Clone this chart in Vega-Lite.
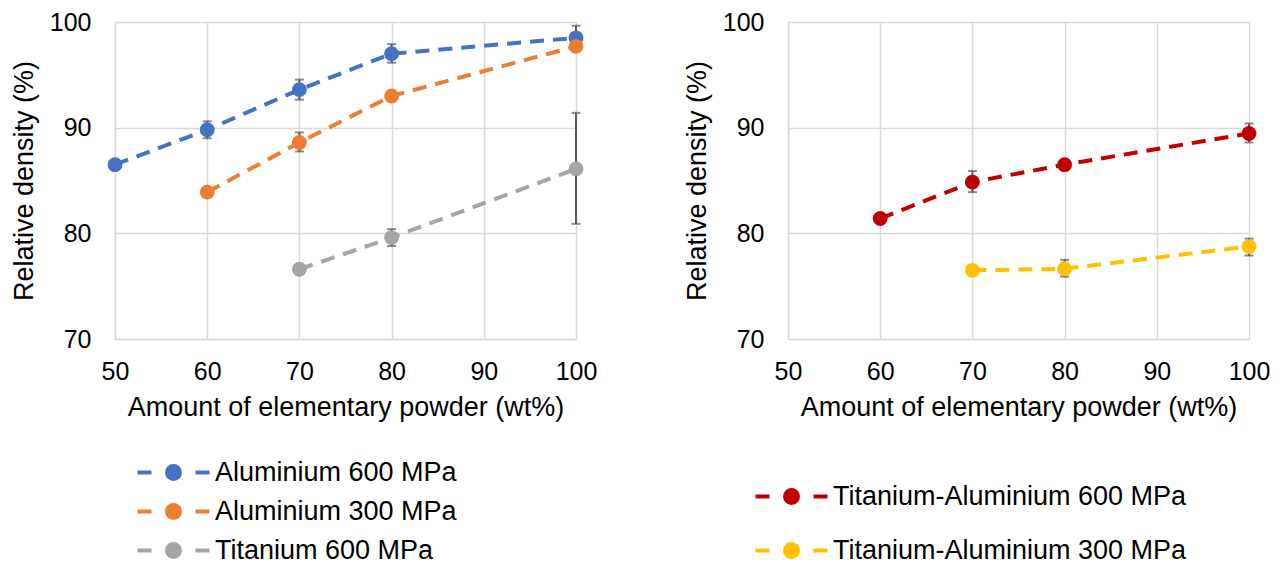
{
  "$schema": "https://vega.github.io/schema/vega-lite/v6.json",
  "padding": {"left": 10, "top": 10, "right": 0, "bottom": 0},
  "background": "white",
  "spacing": 86,
  "config": {
    "font": "Liberation Sans",
    "view": {"stroke": null},
    "axis": {
      "grid": true, "gridColor": "#D9D9D9", "gridWidth": 1.5,
      "domainColor": "#D9D9D9", "domainWidth": 1.5,
      "ticks": false, "labelFlush": false,
      "labelFont": "Liberation Sans", "labelFontSize": 25, "labelColor": "#000000",
      "titleFont": "Liberation Sans", "titleFontSize": 27, "titleFontWeight": "normal", "titleColor": "#000000"
    },
    "legend": {
      "labelFont": "Liberation Sans", "labelFontSize": 27, "labelColor": "#000000", "labelLimit": 0,
      "symbolType": "M-36,0L-22,0M22,0L36,0M-6.5,0A6.5,6.5,0,1,1,6.5,0A6.5,6.5,0,1,1,-6.5,0Z",
      "symbolSize": 4, "symbolStrokeWidth": 4, "labelOffset": 28, "title": null
    }
  },
  "datasets": {
    "left": [
      {"series": "Aluminium 600 MPa", "x": 50, "y": 86.5, "lo": null, "hi": null},
      {"series": "Aluminium 600 MPa", "x": 60, "y": 89.8, "lo": 89.0, "hi": 90.6},
      {"series": "Aluminium 600 MPa", "x": 70, "y": 93.6, "lo": 92.65, "hi": 94.55},
      {"series": "Aluminium 600 MPa", "x": 80, "y": 97.0, "lo": 96.15, "hi": 97.9},
      {"series": "Aluminium 600 MPa", "x": 100, "y": 98.5, "lo": 97.35, "hi": 99.65},
      {"series": "Aluminium 300 MPa", "x": 60, "y": 83.9, "lo": null, "hi": null},
      {"series": "Aluminium 300 MPa", "x": 70, "y": 88.6, "lo": 87.75, "hi": 89.55},
      {"series": "Aluminium 300 MPa", "x": 80, "y": 93.0, "lo": null, "hi": null},
      {"series": "Aluminium 300 MPa", "x": 100, "y": 97.7, "lo": null, "hi": null},
      {"series": "Titanium 600 MPa", "x": 70, "y": 76.6, "lo": null, "hi": null},
      {"series": "Titanium 600 MPa", "x": 80, "y": 79.6, "lo": 78.8, "hi": 80.4},
      {"series": "Titanium 600 MPa", "x": 100, "y": 86.1, "lo": 80.9, "hi": 91.4}
    ],
    "right": [
      {"series": "Titanium-Aluminium 600 MPa", "x": 60, "y": 81.4, "lo": null, "hi": null},
      {"series": "Titanium-Aluminium 600 MPa", "x": 70, "y": 84.85, "lo": 83.9, "hi": 85.9},
      {"series": "Titanium-Aluminium 600 MPa", "x": 80, "y": 86.5, "lo": null, "hi": null},
      {"series": "Titanium-Aluminium 600 MPa", "x": 100, "y": 89.45, "lo": 88.6, "hi": 90.4},
      {"series": "Titanium-Aluminium 300 MPa", "x": 70, "y": 76.5, "lo": null, "hi": null},
      {"series": "Titanium-Aluminium 300 MPa", "x": 80, "y": 76.65, "lo": 75.9, "hi": 77.5},
      {"series": "Titanium-Aluminium 300 MPa", "x": 100, "y": 78.75, "lo": 77.9, "hi": 79.5}
    ]
  },
  "resolve": {"scale": {"color": "independent", "x": "independent", "y": "independent"}, "legend": {"color": "independent"}},
  "hconcat": [
    {
      "width": 461, "height": 317,
      "data": {"name": "left"},
      "encoding": {
        "x": {"field": "x", "type": "quantitative", "scale": {"domain": [50, 100], "nice": false},
              "axis": {"values": [50, 60, 70, 80, 90, 100], "labelPadding": 20, "titlePadding": 10, "title": "Amount of elementary powder (wt%)"}},
        "y": {"field": "y", "type": "quantitative", "scale": {"domain": [70, 100], "nice": false, "zero": false},
              "axis": {"values": [70, 80, 90, 100], "labelPadding": 24, "titlePadding": 11, "title": "Relative density (%)"}}
      },
      "layer": [
        {
          "mark": {"type": "line", "strokeWidth": 4, "strokeDash": [14, 9]},
          "encoding": {
            "color": {"field": "series", "type": "nominal",
                      "scale": {"domain": ["Aluminium 600 MPa", "Aluminium 300 MPa", "Titanium 600 MPa"], "range": ["#4472C4", "#ED7D31", "#A5A5A5"]},
                      "legend": {"orient": "none", "legendX": 45, "legendY": 437, "rowPadding": 10, "direction": "vertical"}}
          }
        },
        {
          "transform": [{"filter": "datum.lo != null"}],
          "mark": {"type": "rule", "color": "#595959", "strokeWidth": 2},
          "encoding": {"y": {"field": "lo", "type": "quantitative"}, "y2": {"field": "hi"}}
        },
        {
          "transform": [{"filter": "datum.lo != null"}],
          "mark": {"type": "tick", "orient": "horizontal", "color": "#595959", "size": 9, "thickness": 2},
          "encoding": {"y": {"field": "lo", "type": "quantitative"}}
        },
        {
          "transform": [{"filter": "datum.hi != null"}],
          "mark": {"type": "tick", "orient": "horizontal", "color": "#595959", "size": 9, "thickness": 2},
          "encoding": {"y": {"field": "hi", "type": "quantitative"}}
        },
        {
          "mark": {"type": "point", "filled": true, "size": 220, "opacity": 1},
          "encoding": {
            "color": {"field": "series", "type": "nominal",
                      "scale": {"domain": ["Aluminium 600 MPa", "Aluminium 300 MPa", "Titanium 600 MPa"], "range": ["#4472C4", "#ED7D31", "#A5A5A5"]},
                      "legend": {"orient": "none", "legendX": 45, "legendY": 437, "rowPadding": 10, "direction": "vertical"}}
          }
        }
      ]
    },
    {
      "width": 461, "height": 317,
      "data": {"name": "right"},
      "encoding": {
        "x": {"field": "x", "type": "quantitative", "scale": {"domain": [50, 100], "nice": false},
              "axis": {"values": [50, 60, 70, 80, 90, 100], "labelPadding": 20, "titlePadding": 10, "title": "Amount of elementary powder (wt%)"}},
        "y": {"field": "y", "type": "quantitative", "scale": {"domain": [70, 100], "nice": false, "zero": false},
              "axis": {"values": [70, 80, 90, 100], "labelPadding": 24, "titlePadding": 11, "title": "Relative density (%)"}}
      },
      "layer": [
        {
          "mark": {"type": "line", "strokeWidth": 4, "strokeDash": [14, 9]},
          "encoding": {
            "color": {"field": "series", "type": "nominal",
                      "scale": {"domain": ["Titanium-Aluminium 600 MPa", "Titanium-Aluminium 300 MPa"], "range": ["#C00000", "#FFC000"]},
                      "legend": {"orient": "none", "legendX": -10, "legendY": 461, "rowPadding": 25, "direction": "vertical"}}
          }
        },
        {
          "transform": [{"filter": "datum.lo != null"}],
          "mark": {"type": "rule", "color": "#595959", "strokeWidth": 2},
          "encoding": {"y": {"field": "lo", "type": "quantitative"}, "y2": {"field": "hi"}}
        },
        {
          "transform": [{"filter": "datum.lo != null"}],
          "mark": {"type": "tick", "orient": "horizontal", "color": "#595959", "size": 9, "thickness": 2},
          "encoding": {"y": {"field": "lo", "type": "quantitative"}}
        },
        {
          "transform": [{"filter": "datum.hi != null"}],
          "mark": {"type": "tick", "orient": "horizontal", "color": "#595959", "size": 9, "thickness": 2},
          "encoding": {"y": {"field": "hi", "type": "quantitative"}}
        },
        {
          "mark": {"type": "point", "filled": true, "size": 220, "opacity": 1},
          "encoding": {
            "color": {"field": "series", "type": "nominal",
                      "scale": {"domain": ["Titanium-Aluminium 600 MPa", "Titanium-Aluminium 300 MPa"], "range": ["#C00000", "#FFC000"]},
                      "legend": {"orient": "none", "legendX": -10, "legendY": 461, "rowPadding": 25, "direction": "vertical"}}
          }
        }
      ]
    }
  ]
}
